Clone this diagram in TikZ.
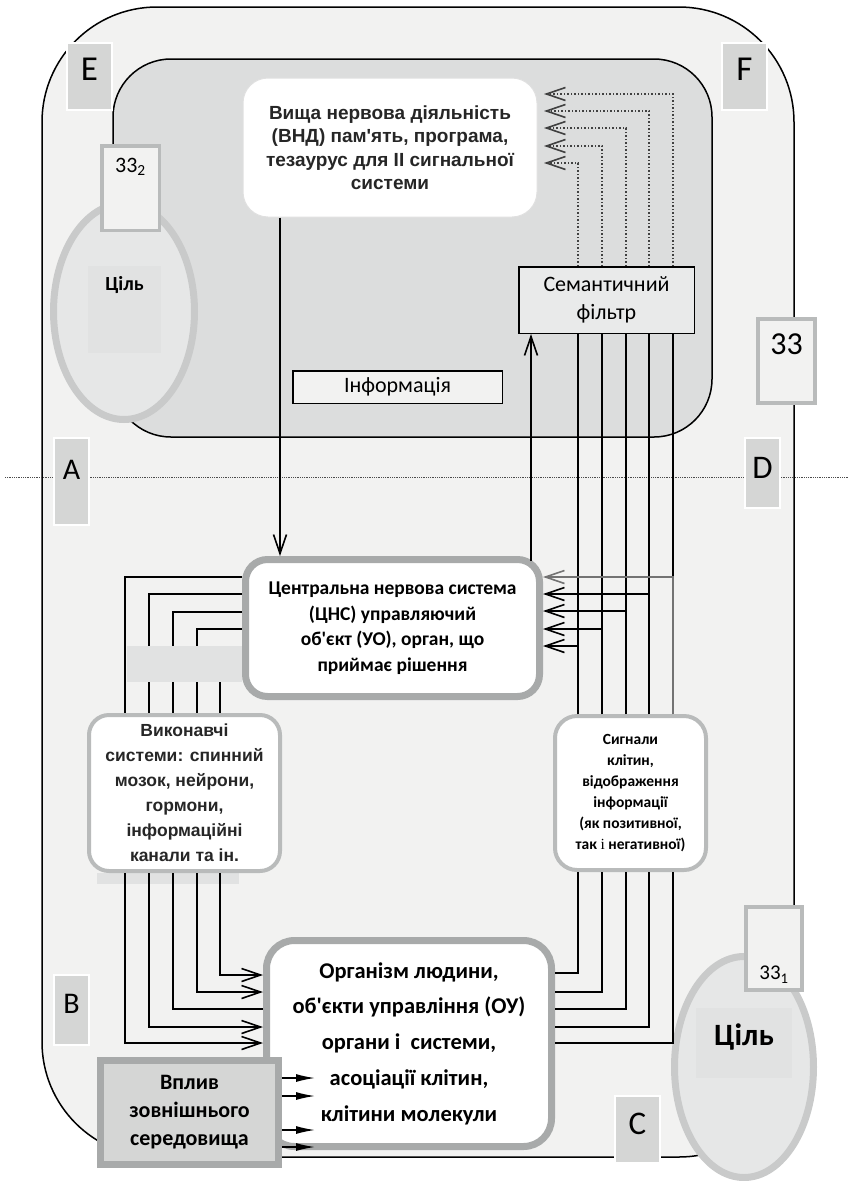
\documentclass[tikz,border=0pt]{standalone}
\usepackage{fontspec}
\setmainfont{Carlito}
\newfontfamily\arialfont{Liberation Sans}
\newfontfamily\seriffont{Liberation Serif}
\usetikzlibrary{arrows.meta, positioning, calc}
\definecolor{PaleGrey}{HTML}{F2F2F1}
\definecolor{PanelGrey}{HTML}{DCDDDD}
\definecolor{TagGrey}{HTML}{D5D6D5}
\definecolor{RimGrey}{HTML}{A8AAAA}
\definecolor{SoftRim}{HTML}{B9BBBB}
\definecolor{GoalGrey}{HTML}{E6E7E7}
\definecolor{GoalRim}{HTML}{C9CACA}
\definecolor{BandGrey}{HTML}{E1E2E2}
\definecolor{FilterGrey}{HTML}{E9EAEA}
\definecolor{InkGrey}{HTML}{262626}

\begin{document}
\begin{tikzpicture}[
    x=1pt, y=-1pt,
    line/.style={draw, line width=1.6pt, -{Straight Barb[length=19pt,width=13pt,line width=1.6pt]}},
    wire/.style={draw, line width=1.6pt},
    hint/.style={draw=black!75, line width=1.5pt, dotted, -{Straight Barb[length=19pt,width=13pt,line width=1.6pt]}},
    push/.style={draw, line width=1.4pt, -{Latex[length=19pt,width=8pt]}},
    card/.style={rectangle, fill=white, align=center},
    mainbox/.style={card, draw=RimGrey, line width=7pt},
    sidebox/.style={card, draw=SoftRim, line width=4pt},
    plain/.style={rectangle, draw=black, line width=1.5pt, align=center, font=\fontsize{22}{28}\selectfont},
    tag/.style={rectangle, fill=TagGrey, draw=white, line width=1.5pt, inner sep=0pt},
    markbox/.style={rectangle, fill=PaleGrey, draw=SoftRim, line width=4pt, inner sep=0pt},
    goal/.style={rectangle, fill=BandGrey, inner sep=0pt, font=\bfseries}
]
    \useasboundingbox (0,0) rectangle (848,1181);

    % Frames
    \draw[fill=PaleGrey, line width=1.5pt, rounded corners=115] (42,7) rectangle (794,1157);
    \draw[black!70, line width=0.8pt, densely dotted] (5,477) -- (848,477);
    \draw[fill=PanelGrey, line width=1.5pt, rounded corners=58] (113,59) rectangle (712,437);

    % Goal (top left)
    \draw[fill=GoalGrey, draw=GoalRim, line width=7pt] (124,311.5) ellipse [x radius=70.5pt, y radius=108pt];
    \node[goal, minimum width=73, minimum height=87, text depth=52pt, font=\bfseries\fontsize{20}{20}\selectfont] (goaltwo) at (124.5,309.5) {Ціль};
    \node[markbox, line width=3.5pt, minimum width=57.5, minimum height=84.5, text depth=45pt, font=\fontsize{22}{22}\selectfont] (zztwo) at (130.5,188) {33\textsubscript{2}};

    % Letter tags
    \node[tag, minimum width=45, minimum height=67, text depth=14pt, font=\fontsize{35}{35}\selectfont] (tagE) at (89.5,76.5) {E};
    \node[tag, minimum width=45, minimum height=67, text depth=14pt, font=\fontsize{35}{35}\selectfont] (tagF) at (744.5,76.5) {F};

    % Nodes (upper panel)
    \node[card, rounded corners=25, draw=black!12, line width=1pt, minimum width=294, minimum height=139,
          text=InkGrey, font=\arialfont\bfseries\fontsize{19}{23.5}\selectfont] (vnd) at (390,147.5)
          {Вища нервова діяльність\\(ВНД) пам\textquotesingle ять, програма,\\тезаурус для II сигнальної\\системи};
    \node[plain, fill=FilterGrey, minimum width=175.5, minimum height=66.5] (filter) at (606.5,300) {Семантичний\\фільтр};
    \node[plain, fill=PaleGrey, minimum width=209.5, minimum height=32.5, inner sep=0pt] (info) at (397.5,387) {Інформація};
    \node[markbox, minimum width=57, minimum height=84, text depth=34pt, font=\fontsize{32}{32}\selectfont] (zz) at (786.5,361) {33};

    % Nodes (lower part)
    \node[mainbox, rounded corners=22, minimum width=294, minimum height=137,
          font=\bfseries\fontsize{19.5}{25.5}\selectfont] (cns) at (392.5,628)
          {Центральна нервова система\\(ЦНС) управляючий\\об\textquotesingle єкт (УО), орган, що\\приймає рішення};
    \fill[BandGrey] (97,873) rectangle (239,884);
    \node[sidebox, rounded corners=20, minimum width=191, minimum height=156,
          text=InkGrey, font=\arialfont\bfseries\fontsize{17.5}{25}\selectfont] (exec) at (184.5,793)
          {Виконавчі\\системи: спинний\\мозок, нейрони,\\гормони,\\інформаційні\\канали та ін.};
    \node[sidebox, rounded corners=22, minimum width=151, minimum height=154,
          font=\bfseries\fontsize{15.5}{21}\selectfont] (signals) at (630.5,793)
          {Сигнали\\клітин,\\відображення\\інформації\\(як позитивної,\\так {\seriffont\mdseries і} негативної)};
    \node[mainbox, rounded corners=28, minimum width=285, minimum height=206,
          font=\bfseries\fontsize{22.5}{35.7}\selectfont] (body) at (409,1043.5)
          {Організм людини,\\об\textquotesingle єкти управління (ОУ)\\органи і\ \ системи,\\асоціації клітин,\\клітини молекули};
    \node[rectangle, fill=TagGrey, draw=RimGrey, line width=7pt, minimum width=178, minimum height=104, align=center,
          font=\bfseries\fontsize{22}{28}\selectfont] (env) at (189.5,1112.5)
          {Вплив\\зовнішнього\\середовища};

    \node[tag, minimum width=35, minimum height=87, text depth=24pt, font=\fontsize{30}{30}\selectfont] (tagA) at (71.5,481.5) {A};
    \node[tag, minimum width=35, minimum height=70, text depth=10pt, font=\fontsize{33}{33}\selectfont] (tagD) at (762.5,473) {D};
    \node[tag, minimum width=35, minimum height=70, text depth=12pt, font=\fontsize{30}{30}\selectfont] (tagB) at (71.5,1010) {B};
    \node[tag, minimum width=45, minimum height=67, text depth=11pt, font=\fontsize{33}{33}\selectfont] (tagC) at (637.5,1129.5) {C};

    % Goal (bottom right)
    \draw[fill=GoalGrey, draw=GoalRim, line width=7pt] (744,1067) ellipse [x radius=69.5pt, y radius=110.5pt];
    \node[goal, minimum width=96, minimum height=70, text depth=16pt, font=\bfseries\fontsize{31}{31}\selectfont] (goalone) at (744,1043) {Ціль};
    \node[markbox, minimum width=56, minimum height=83, text height=66pt, font=\fontsize{21}{21}\selectfont] (zzone) at (774,948.5) {33\textsubscript{1}};

    % Arrows
    \path[line] (vnd.south -| 280,0) -- (cns.north -| 280,0);
    \path[line] ($(cns.north -| 531,0)+(0,5)$) -- (filter.south -| 531,0);

    \foreach \xx/\yy in {125/577, 149/594, 173/612, 197/629}
        \path[wire] (cns.west |- 0,\yy) -| (exec.north -| \xx,0);
    \coordinate (gap) at (220,682);
    \path[wire] (gap) -- (exec.north -| gap);

    \foreach \xx/\yy in {125/1043, 149/1027, 197/992, 220/975}
        \path[line] (exec.south -| \xx,0) |- (body.west |- 0,\yy);
    \path[wire] (exec.south -| 173,0) |- (body.west |- 0,1009);

    \foreach \xx/\ya/\yb/\yc/\cc in {578/163/646/973/black, 602/146/629/992/black, 626/128/611/1009/black,
                                      649/111/594/1027/black, 673/94/577/1043/black!55} {
        \path[hint] (filter.north -| \xx,0) |- ([xshift=6.5pt]vnd.east |- 0,\ya);
        \path[wire] (signals.north -| \xx,0) -- (filter.south -| \xx,0);
        \path[line, draw=\cc] (signals.north -| \xx,0) |- (cns.east |- 0,\yb);
        \path[wire] (body.east |- 0,\yc) -| (signals.south -| \xx,0);
    }

    \foreach \yy in {1078, 1096, 1130, 1147}
        \path[push] (env.east |- 0,\yy) -- ++(33,0);

    \fill[BandGrey] (127,646) rectangle (242,682);

\end{tikzpicture}
\end{document}
